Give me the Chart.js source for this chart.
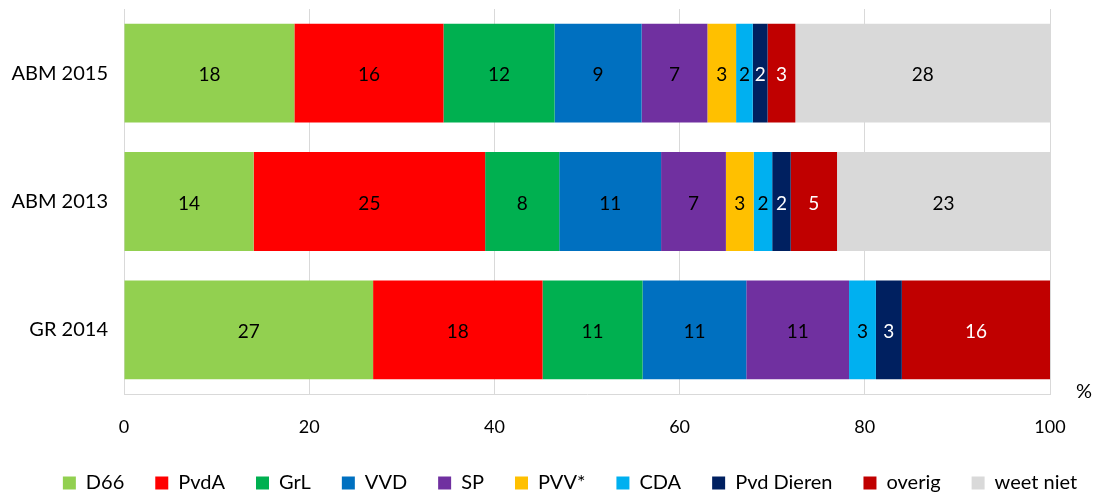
<!DOCTYPE html>
<html>
<head>
<meta charset="utf-8">
<script src="https://cdn.jsdelivr.net/npm/chart.js@4"></script>
<style>
  body { margin: 0; background: #fff; }
  #wrap { width: 1102px; height: 497px; position: relative; }
</style>
</head>
<body>
<div id="wrap"><canvas id="poll-chart"></canvas></div>
<script>
// categories and series
const categories = ['ABM 2015', 'ABM 2013', 'GR 2014'];
const parties = ['D66', 'PvdA', 'GrL', 'VVD', 'SP', 'PVV*', 'CDA', 'Pvd Dieren', 'overig', 'weet niet'];
const partyColors = ['#92D050', '#FF0000', '#00B050', '#0070C0', '#7030A0', '#FFC000', '#00B0F0', '#002060', '#C00000', '#D9D9D9'];
const labelColors = ['#000', '#000', '#000', '#000', '#000', '#000', '#000', '#fff', '#fff', '#000'];

// percentages per party, one value per category (ABM 2015, ABM 2013, GR 2014)
const d66 = [18.4, 14, 26.9];
const pvda = [16.1, 25, 18.3];
const grl = [12.0, 8, 10.8];
const vvd = [9.4, 11, 11.2];
const sp = [7.1, 7, 11.1];
const pvv = [3.1, 3, 0];
const cda = [1.8, 2, 2.9];
const pvdd = [1.6, 2, 2.8];
const overig = [3.0, 5, 16.0];
const weetNiet = [27.5, 23, 0];

const xTicks = [0, 20, 40, 60, 80, 100];

const series = [d66, pvda, grl, vvd, sp, pvv, cda, pvdd, overig, weetNiet];
const fontFamily = 'Lato, "Noto Sans", sans-serif';

const barLabels = {
    id: 'barLabels',
    afterLayout(chart) {
        // legend sits a bit right of centre in the original
        chart.legend.left += 19;
        chart.legend.right += 19;
    },
    afterDatasetsDraw(chart) {
        const ctx = chart.ctx;
        ctx.save();
        ctx.font = '19px ' + fontFamily;
        ctx.textAlign = 'center';
        ctx.textBaseline = 'middle';
        chart.data.datasets.forEach((ds, i) => {
            const meta = chart.getDatasetMeta(i);
            meta.data.forEach((el, j) => {
                const v = ds.data[j];
                if (!v) return;
                const p = el.getCenterPoint();
                ctx.fillStyle = labelColors[i];
                ctx.fillText(String(Math.round(v)), p.x, p.y + 2);
            });
        });
        // unit label at the end of the axis
        const area = chart.chartArea;
        ctx.fillStyle = '#000';
        ctx.font = '20px ' + fontFamily;
        ctx.textAlign = 'left';
        ctx.fillText('%', area.right + 26, area.bottom - 2);
        ctx.restore();
    }
};

new Chart(document.getElementById('poll-chart'), {
    type: 'bar',
    data: {
        labels: categories,
        datasets: series.map((vals, i) => ({
            label: parties[i],
            data: vals,
            backgroundColor: partyColors[i],
            borderWidth: 0,
            categoryPercentage: 0.77,
            barPercentage: 1
        }))
    },
    options: {
        indexAxis: 'y',
        responsive: true,
        maintainAspectRatio: false,
        animation: false,
        layout: { padding: { top: 9, right: 0, left: 0, bottom: -6 } },
        scales: {
            x: {
                stacked: true,
                min: 0,
                max: 100,
                afterBuildTicks: (scale) => {
                    scale.ticks = xTicks.map((v) => ({ value: v }));
                },
                grid: { color: '#D9D9D9', drawTicks: false },
                border: { display: true, color: '#D9D9D9' },
                ticks: {
                    color: '#000',
                    padding: 22,
                    font: { family: fontFamily, size: 18 }
                },
                afterFit: (scale) => { scale.height = 48; }
            },
            y: {
                stacked: true,
                grid: { display: false, drawTicks: false },
                border: { display: true, color: '#D9D9D9' },
                ticks: {
                    color: '#000',
                    padding: 16,
                    font: { family: fontFamily, size: 20 }
                },
                afterFit: (scale) => {
                    scale.width = 124;
                    scale.paddingTop = 0;
                    scale.paddingBottom = 0;
                }
            },
            // empty right-hand axis, only reserves room for the % sign
            yRight: {
                type: 'category',
                position: 'right',
                grid: { display: false, drawTicks: false },
                border: { display: false },
                ticks: { display: false },
                afterFit: (scale) => {
                    scale.width = 52;
                    scale.paddingTop = 0;
                    scale.paddingBottom = 0;
                }
            }
        },
        plugins: {
            legend: {
                position: 'bottom',
                labels: {
                    color: '#000',
                    boxWidth: 13,
                    boxHeight: 13,
                    padding: 31,
                    font: { family: fontFamily, size: 20 }
                }
            },
            tooltip: { enabled: false }
        }
    },
    plugins: [barLabels]
});
</script>
</body>
</html>
